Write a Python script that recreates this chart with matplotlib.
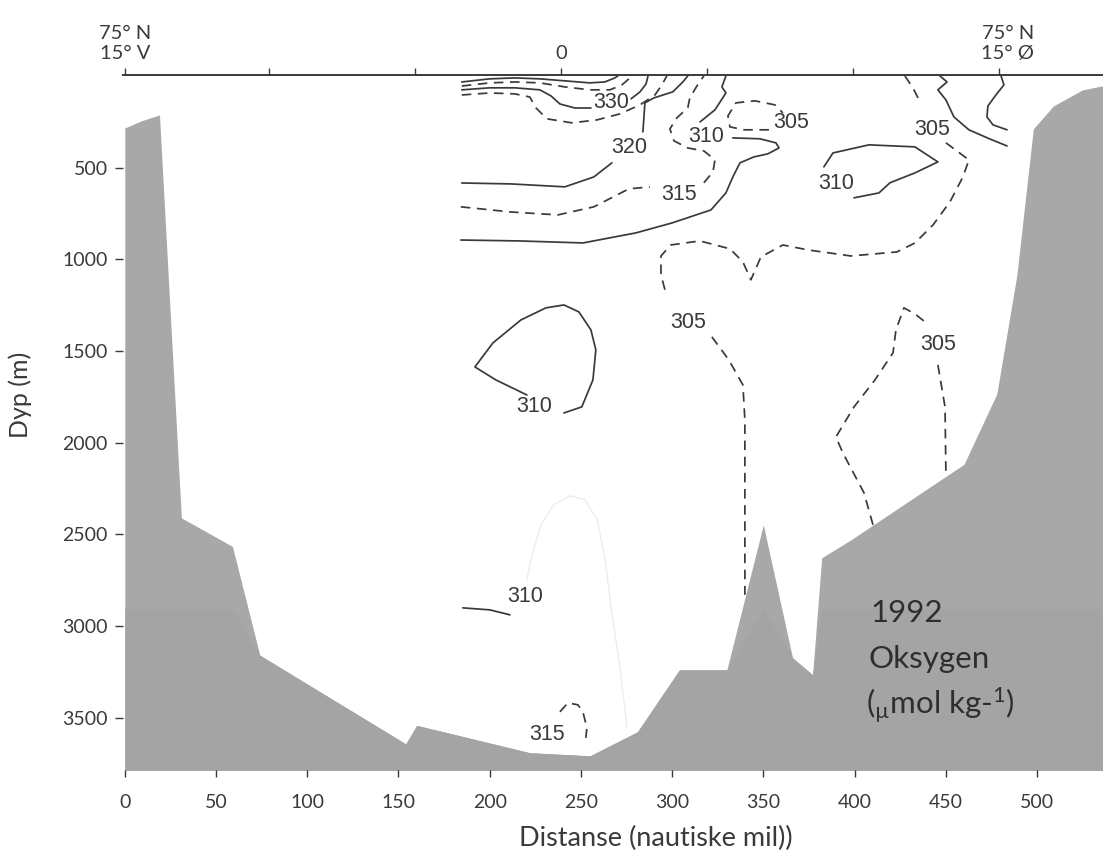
import numpy as np
import matplotlib
matplotlib.use("Agg")
import matplotlib.pyplot as plt

plt.rcParams['font.family'] = ['Lato', 'DejaVu Sans']
plt.rcParams['mathtext.fontset'] = 'custom'
plt.rcParams['mathtext.rm'] = 'Lato'
plt.rcParams['mathtext.it'] = 'Lato:italic'

INK = '#3a3a3a'
GROUND = '#a8a8a8'
GROUND_DEEP = '#a4a4a4'
nan = np.nan

# ---- bottom topography along the section (distance in nmi, depth in m)
bathy_dist = [0, 9, 19, 31, 59, 74, 154, 160, 178, 222, 255, 281, 304, 330,
              350, 366, 377, 382, 398, 460, 478, 489, 498, 509, 525, 537]
bathy_depth = [284, 245, 213, 2410, 2566, 3159, 3643, 3542, 3585, 3691, 3708,
               3577, 3239, 3239, 2448, 3173, 3266, 2628, 2530, 2118, 1734,
               1085, 289, 164, 76, 52]

# ---- oxygen isolines (umol/kg); nan marks a break for the inline label
c340_dist = [184.7, 200.1, 213.8, 227.5, 241.2, 254.9, 263.1, 268.6, 270.3]
c340_depth = [33, 16, 11, 16, 27, 38, 33, 11, 0]

c335_dist = [184.7, 200.1, 213.8, 227.5, 241.2, 254.9, 265.9, 272.5, 276.9, 278.0]
c335_depth = [55, 38, 33, 38, 60, 76, 76, 49, 11, 0]

c330_dist = [184.7, 200.1, 213.8, 227.5, 233.6, 238.5, 246.7, 255.5, nan,
             277.5, 282.4, 285.7, 286.8]
c330_depth = [76, 65, 65, 76, 109, 153, 175, 175, nan, 125, 87, 44, 0]

c325_dist = [184.7, 200.1, 213.8, 222.0, 225.3, 231.4, 245.1, 258.8, 271.4,
             282.4, 290.6, 294.4, 297.1]
c325_depth = [104, 93, 98, 115, 174, 234, 256, 240, 207, 158, 104, 49, 0]

c320_dist = [184.7, 211.6, 241.2, 257.1, 267.0, nan, 284.0, 285.1, 290.0,
             300.4, 305.9, 308.6]
c320_depth = [584, 589, 605, 551, 474, nan, 305, 147, 120, 87, 33, 0]

c315_dist = [184.2, 211.6, 237.4, 257.1, 276.3, 287.8, nan, 317.4, 322.4,
             323.5, 317.4, 308.6, 301.0, 298.8, 302.6, 308.6, 309.7, 313.6, 317.4]
c315_depth = [714, 742, 758, 714, 616, 605, nan, 583, 523, 458, 409, 393,
              354, 289, 229, 174, 120, 55, 0]

c310_dist = [329.5, 327.3, 329.5, 323.5, 315.3, nan, 333.3, 348.1, 356.9,
             358.6, 352.5, 344.8, 337.2, 333.3, 329.5, 321.3, 299.9, 280.2,
             251.1, 216.6, 184.2]
c310_depth = [0, 60, 93, 185, 251, nan, 338, 343, 365, 393, 425, 442, 474,
              551, 638, 731, 802, 856, 911, 900, 895]

c305_cell_dist = [353.1, 339.4, 331.7, 330.6, 335.0, 345.4, 356.4, 360.7]
c305_cell_depth = [294, 294, 278, 218, 147, 136, 158, 202]

c305_main_dist = [427.6, 432.0, 435.9, nan, 450.1, 462.7, 459.4, 452.3, 443.0,
                  433.1, 423.2, 398.0, 374.5, 360.7, 348.7, 343.2, 338.8,
                  331.7, 315.2, 299.3, 293.9, 293.9, 296.1, nan, 321.8, 331.1,
                  338.8, 339.9, 339.9, 339.9]
c305_main_depth = [0, 65, 142, nan, 365, 458, 551, 687, 813, 911, 960, 982,
                   949, 922, 987, 1112, 1014, 943, 900, 922, 982, 1085, 1167,
                   nan, 1423, 1549, 1685, 1876, 2421, 2830]

c305_deep_dist = [410.1, 405.2, 393.6, 389.8, 399.7, 411.2, 421.1, 422.7,
                  427.1, 433.1, 438.6, nan, 445.7, 449.6, 450.1]
c305_deep_depth = [2448, 2274, 2056, 1969, 1805, 1658, 1510, 1385, 1265,
                   1298, 1341, nan, 1576, 1805, 2170]

c310_east_dist = [383.2, 388.2, 407.9, 433.1, 445.7, 433.1, 419.4, 413.4, 399.7]
c310_east_depth = [496, 420, 376, 387, 469, 529, 583, 638, 665]

c300_a_dist = [446.8, 450.7, 445.7, 450.1, 454.5, 462.7, 474.2, 483.6]
c300_a_depth = [0, 33, 76, 131, 224, 294, 344, 382]

c300_b_dist = [480.3, 481.9, 477.5, 473.1, 472.6, 475.9, 483.6]
c300_b_depth = [0, 49, 104, 164, 224, 267, 294]

c310_mid_dist = [240.7, 250.5, 256.6, 258.2, 255.5, 248.9, 240.7, 230.8,
                 217.1, 201.8, 191.9, 203.4, 220.4]
c310_mid_depth = [1838, 1805, 1658, 1494, 1385, 1287, 1249, 1265, 1331,
                  1456, 1587, 1658, 1740]

c310_deep_dist = [185.3, 200.1, 211.1]
c310_deep_depth = [2901, 2912, 2939]

c315_deep_dist = [238.5, 242.9, 248.4, 251.1, 253.3, 252.7]
c315_deep_depth = [3468, 3419, 3430, 3468, 3555, 3610]

# faint trace left over in the printed section
faint_dist = [220.4, 223.0, 228.0, 235.0, 244.0, 252.0, 259.0, 263.5, 266.5,
              271.4, 275.2]
faint_depth = [2748, 2620, 2450, 2340, 2290, 2310, 2420, 2650, 2900, 3223, 3550]

# ---- inline isoline labels
label_text = ['330', '320', '315', '310', '305', '305', '310', '305', '305',
              '310', '310', '315']
label_dist = [266.4, 276.3, 303.7, 318.5, 365.1, 442.4, 389.8, 308.7, 445.7,
              224.2, 219.3, 231.4]
label_depth = [147, 393, 649, 333, 256, 294, 589, 1347, 1467, 1805, 2841, 3594]

# ---- axis ticks
dist_ticks = [0, 50, 100, 150, 200, 250, 300, 350, 400, 450, 500]
depth_ticks = [500, 1000, 1500, 2000, 2500, 3000, 3500]
top_tick_pos = [0, 79, 159, 239, 319, 399, 479]
top_label_text = ['75° N\n15° V', '0', '75° N\n15° Ø']
top_label_pos = [0, 239, 484]

fig = plt.figure(figsize=(11.03, 8.60), dpi=100, facecolor='white')
ax = fig.add_axes([0.1115, 0.1047, 0.8885, 0.8081])
ax.set_xlim(-1, 536.2)
ax.set_ylim(3785, -5)

# sea floor, with the slightly darker lower band of the print
ax.fill_between(bathy_dist, bathy_depth, 4200, color=GROUND, lw=0, zorder=1)
ax.fill_between(bathy_dist, np.maximum(bathy_depth, 2905), 4200,
                color=GROUND_DEEP, lw=0, zorder=1)

ax.plot(faint_dist, faint_depth, color='#ededed', lw=1.0, zorder=2)

solid = dict(color=INK, lw=1.25, solid_capstyle='round', zorder=3)
dashed = dict(color=INK, lw=1.25, linestyle=(0, (5.5, 3.8)), zorder=3)

for xs, ys in [(c340_dist, c340_depth), (c330_dist, c330_depth),
               (c320_dist, c320_depth), (c310_dist, c310_depth),
               (c310_east_dist, c310_east_depth), (c300_a_dist, c300_a_depth),
               (c300_b_dist, c300_b_depth), (c310_mid_dist, c310_mid_depth),
               (c310_deep_dist, c310_deep_depth)]:
    ax.plot(xs, ys, **solid)

for xs, ys in [(c335_dist, c335_depth), (c325_dist, c325_depth),
               (c315_dist, c315_depth), (c305_cell_dist, c305_cell_depth),
               (c305_main_dist, c305_main_depth),
               (c305_deep_dist, c305_deep_depth),
               (c315_deep_dist, c315_deep_depth)]:
    ax.plot(xs, ys, **dashed)

for t, x, y in zip(label_text, label_dist, label_depth):
    ax.text(x, y, t, ha='center', va='center', fontsize=15.5, color=INK,
            family=['Liberation Sans', 'DejaVu Sans'], zorder=4)

# axes decoration
for side in ['left', 'right', 'bottom', 'top']:
    ax.spines[side].set_visible(False)

ax.set_xticks(dist_ticks)
ax.set_yticks(depth_ticks)
ax.tick_params(axis='x', direction='out', length=5, width=1, colors=INK,
               labelsize=14, pad=12)
ax.tick_params(axis='y', direction='out', length=6, width=1, colors=INK,
               labelsize=14, pad=5)

secax = ax.secondary_xaxis('top')
secax.set_xticks(top_tick_pos, labels=[''] * len(top_tick_pos))
secax.tick_params(direction='out', length=5, width=1, colors=INK)
secax.spines['top'].set_color(INK)
secax.spines['top'].set_linewidth(1.4)

for t, x in zip(top_label_text, top_label_pos):
    ax.annotate(t, xy=(x, 1.0), xycoords=('data', 'axes fraction'),
                xytext=(0, 9), textcoords='offset points', ha='center',
                va='bottom', fontsize=14.5, color=INK, linespacing=1.25,
                multialignment='center', annotation_clip=False)

fig.text(656 / 1103, 1 - 838 / 860, 'Distanse (nautiske mil))', ha='center',
         va='center', fontsize=19.5, color=INK)
fig.text(20 / 1103, 1 - 395 / 860, 'Dyp (m)', ha='center', va='center',
         rotation=90, fontsize=18, color=INK)

fig.text(870 / 1103, 1 - 613 / 860, '1992', ha='left', va='center',
         fontsize=22.5, color='#2e2e2e')
fig.text(868 / 1103, 1 - 659 / 860, 'Oksygen', ha='left', va='center',
         fontsize=22.5, color='#2e2e2e')
fig.text(866 / 1103, 1 - 705 / 860, r'($_{\mathrm{µ}}$mol kg-$^{\mathrm{1}}$)',
         ha='left', va='center', fontsize=22.5, color='#2e2e2e')

fig.savefig('out.png', dpi=100, facecolor='white')
